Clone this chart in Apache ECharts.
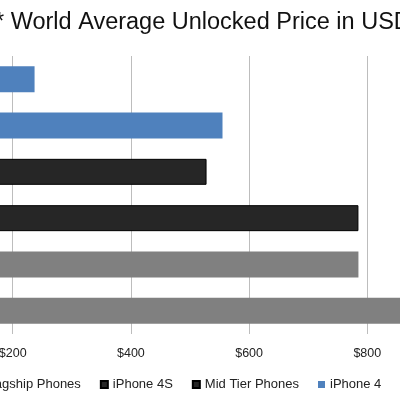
<!DOCTYPE html>
<html>
<head>
<meta charset="utf-8">
<script src="https://cdn.jsdelivr.net/npm/echarts@6/dist/echarts.min.js"></script>
<style>html,body{margin:0;padding:0;background:#fff}#c{width:400px;height:400px}</style>
</head>
<body>
<div id="c"></div>
<script>
const categories = ["iPhone 5", "Flagship Phones", "iPhone 4S", "Mid Tier Phones", "iPhone 4", "Low End Phones"];
const prices = [900, 785, 785, 528, 555, 237];
const barColors = ["#808080", "#808080", "#262626", "#262626", "#4F81BD", "#4F81BD"];
const legendItems = ["Flagship Phones", "iPhone 4S", "Mid Tier Phones", "iPhone 4", "Low End Phones"];
const titleText = "* World Average Unlocked Price in USD";

const chart = echarts.init(document.getElementById('c'), null, {renderer: 'canvas'});
const FONT = "'Liberation Sans', Arial, Helvetica, sans-serif";
const series = categories.map((name, i) => ({
  name: name,
  type: 'bar',
  stack: 'all',
  barWidth: 26,
  data: categories.map((_, j) => j === i ? prices[i] : null),
  itemStyle: {
    color: barColors[i],
    borderColor: barColors[i] === "#262626" ? "#000" : barColors[i],
    borderWidth: barColors[i] === "#262626" ? 1 : 0
  }
}));
chart.setOption({
  animation: false,
  backgroundColor: '#fff',
  textStyle: {fontFamily: FONT},
  title: {
    text: titleText, left: -5, top: 11, padding: 0,
    textStyle: {fontSize: 23.5, fontWeight: 'normal', color: '#111', fontFamily: FONT}
  },
  legend: {
    data: legendItems, left: -33, top: 373, icon: 'rect',
    itemWidth: 7, itemHeight: 7, itemGap: 19,
    textStyle: {fontSize: 13, color: '#222', fontFamily: FONT}
  },
  grid: {left: -105.5, right: -85.5, top: 56, bottom: 66, containLabel: false, outerBoundsMode: 'none'},
  xAxis: {
    type: 'value', min: 0, max: 1000, interval: 200,
    axisLine: {show: false}, axisTick: {show: false},
    splitLine: {show: true, lineStyle: {color: '#bdbdbd', width: 1}},
    axisLabel: {formatter: v => '$' + v, fontSize: 12.5, color: '#222', margin: 13, fontFamily: FONT}
  },
  yAxis: {
    type: 'category', data: categories,
    axisLine: {show: false}, axisTick: {show: false}, axisLabel: {show: false}
  },
  series: series
});
</script>
</body>
</html>
